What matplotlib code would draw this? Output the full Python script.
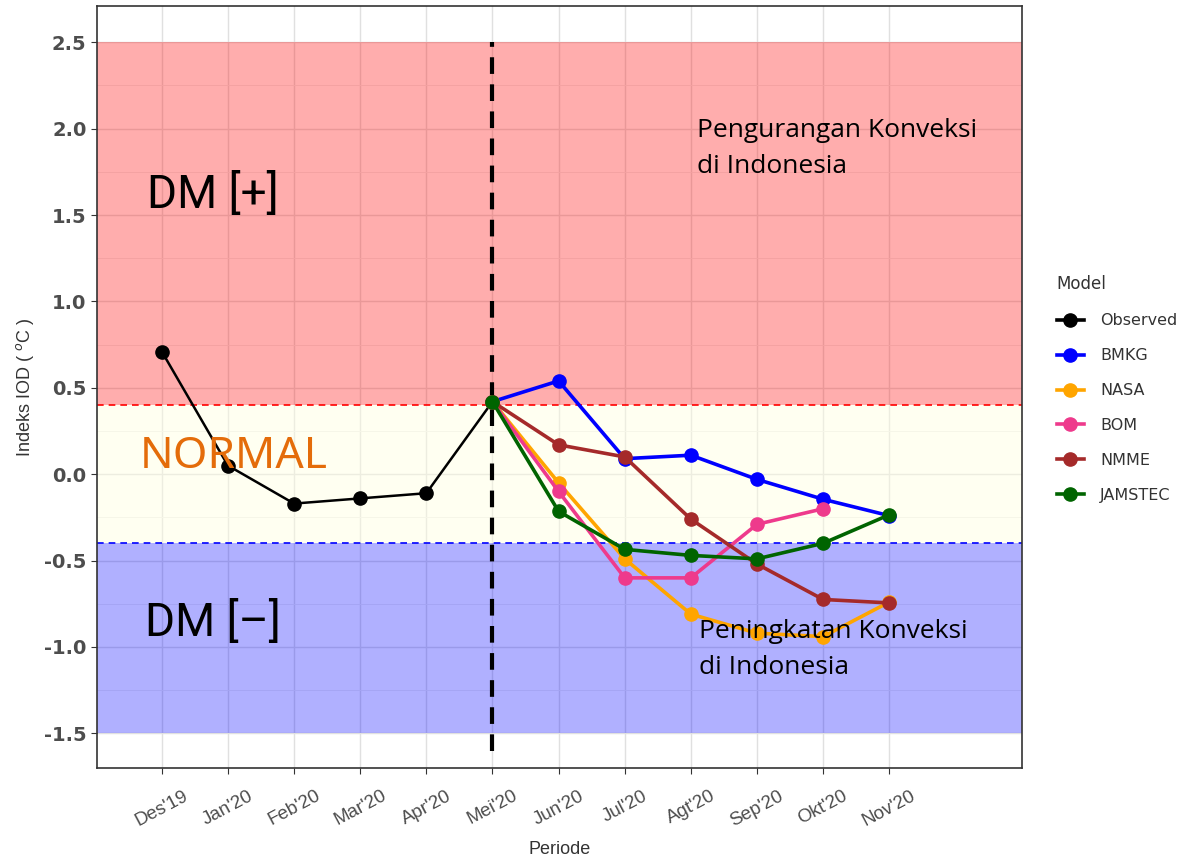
import matplotlib
matplotlib.use("Agg")
import matplotlib.pyplot as plt
from matplotlib.lines import Line2D
from matplotlib.ticker import MultipleLocator

plt.rcParams["axes.unicode_minus"] = False

# periode bulanan
periode = ["Des'19", "Jan'20", "Feb'20", "Mar'20", "Apr'20", "Mei'20",
           "Jun'20", "Jul'20", "Agt'20", "Sep'20", "Okt'20", "Nov'20"]

# indeks IOD observasi (Des'19 - Mei'20)
observed = [0.71, 0.05, -0.17, -0.14, -0.11, 0.42]

# prediksi model (Mei'20 - Nov'20)
bmkg = [0.42, 0.54, 0.09, 0.11, -0.03, -0.145, -0.24]
nasa = [0.42, -0.05, -0.49, -0.81, -0.92, -0.94, -0.74]
bom = [0.42, -0.10, -0.60, -0.60, -0.29, -0.20]
nmme = [0.42, 0.17, 0.10, -0.26, -0.52, -0.725, -0.745]
jamstec = [0.42, -0.215, -0.435, -0.47, -0.49, -0.40, -0.235]

model_names = ["Observed", "BMKG", "NASA", "BOM", "NMME", "JAMSTEC"]
model_colors = ["#000000", "#0000FF", "#FFA500", "#EE3A8C", "#A52A2A", "#006400"]

fig = plt.figure(figsize=(11.86, 8.58), dpi=100)
ax = fig.add_axes([0.0818, 0.105, 0.7795, 0.888])

# zona DM+, normal, DM-
ax.axhspan(0.4, 2.5, color="#FF0000", alpha=0.32, lw=0, zorder=1)
ax.axhspan(-0.4, 0.4, color="#FFFFE0", alpha=0.45, lw=0, zorder=1)
ax.axhspan(-1.5, -0.4, color="#0000FF", alpha=0.31, lw=0, zorder=1)
ax.axhline(0.4, color="#FF0000", ls=(0, (4, 3)), lw=1.2, zorder=2)
ax.axhline(-0.4, color="#0000FF", ls=(0, (4, 3)), lw=1.2, zorder=2)
ax.plot([5, 5], [-1.6, 2.5], color="black", ls=(0, (4, 2.5)), lw=3, zorder=3)

x_obs = list(range(len(observed)))
start = len(observed) - 1
series = [observed, bmkg, nasa, bom, nmme, jamstec]
for i, (name, vals, col) in enumerate(zip(model_names, series, model_colors)):
    if i == 0:
        xs = x_obs
        lw = 1.8
    else:
        xs = list(range(start, start + len(vals)))
        lw = 2.6
    ax.plot(xs, vals, color=col, lw=lw, marker="o", ms=9.5, zorder=4 + i)

ax.set_xlim(-0.98, 13.0)
ax.set_ylim(-1.70, 2.71)
ax.set_xticks(range(len(periode)))
ax.set_xticklabels(periode, rotation=28, ha="center", va="top",
                   fontsize=13.5, color="#4D4D4D", family="Liberation Sans")
ax.yaxis.set_major_locator(MultipleLocator(0.5))
ax.yaxis.set_minor_locator(MultipleLocator(0.25))
ax.xaxis.set_minor_locator(MultipleLocator(0.5))
for lab in ax.get_yticklabels():
    lab.set_fontsize(14)
    lab.set_fontweight("bold")
    lab.set_color("#4D4D4D")
ax.tick_params(axis="both", which="major", length=4, color="#333333")
ax.tick_params(axis="x", which="major", pad=10)
ax.tick_params(axis="both", which="minor", length=0)

ax.grid(True, which="major", color="#E0E0E0", lw=1.0, zorder=0)
ax.grid(True, which="minor", axis="y", color="#EEEEEE", lw=0.6, zorder=0)
ax.set_axisbelow(True)
for s in ax.spines.values():
    s.set_color("#333333")
    s.set_linewidth(1.2)

ax.set_xlabel("Periode", fontsize=13, color="#333333", labelpad=8,
              family="Liberation Sans")
ax.set_ylabel("Indeks IOD ( $^{o}$C )", fontsize=13, color="#333333",
              labelpad=6, family="Liberation Sans")

# label zona
ax.text(0.77, 1.62, "DM [+]", fontsize=33, ha="center", va="center",
        family="Roboto", zorder=10)
ax.text(0.77, -0.86, "DM [\u2013]", fontsize=33, ha="center", va="center",
        family="Roboto", zorder=10)
ax.text(-0.33, 0.1, "NORMAL", fontsize=32, ha="left", va="center",
        color="#E46C0A", family="Noto Sans", zorder=10)
ax.text(8.09, 1.885, "Pengurangan Konveksi\ndi Indonesia", fontsize=19,
        ha="left", va="center", family="Open Sans", linespacing=1.55, zorder=10)
ax.text(8.12, -1.015, "Peningkatan Konveksi\ndi Indonesia", fontsize=19,
        ha="left", va="center", family="Open Sans", linespacing=1.55, zorder=10)

handles = [Line2D([], [], color=c, lw=2.6, marker="o", ms=9.5) for c in model_colors]
leg = fig.legend(handles, model_names, title="Model", loc="upper left",
                 bbox_to_anchor=(0.879, 0.696), frameon=False, fontsize=11.5,
                 title_fontsize=12, handlelength=1.7, handletextpad=1.0,
                 labelspacing=1.25, alignment="left")
for t in leg.get_texts():
    t.set_color("#333333")
leg.get_title().set_color("#333333")

fig.savefig("out.png", dpi=100)
